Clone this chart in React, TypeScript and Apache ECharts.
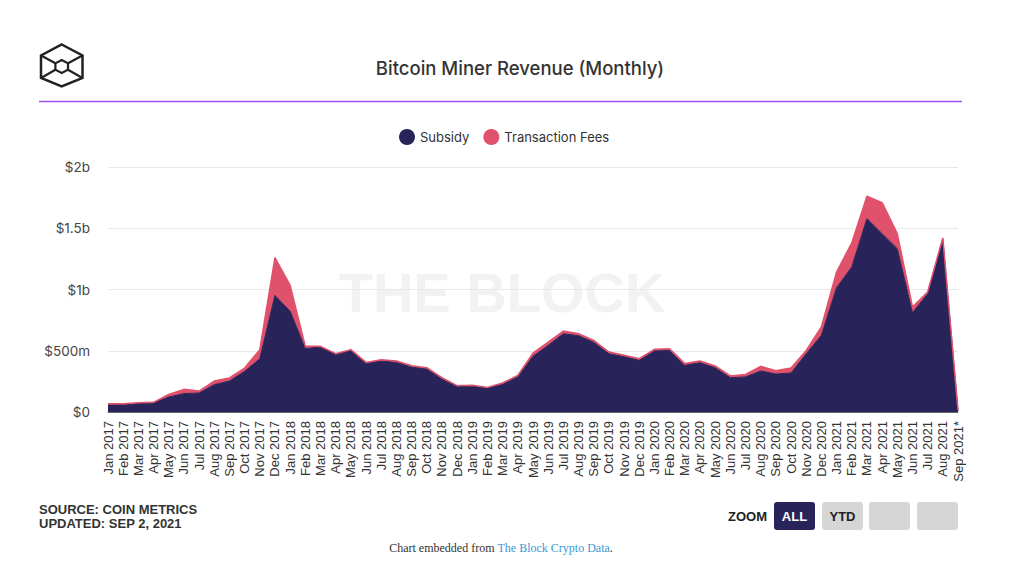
import React, { useEffect, useRef } from "react";
import * as echarts from "echarts";

const months = [
  "Jan 2017","Feb 2017","Mar 2017","Apr 2017","May 2017","Jun 2017","Jul 2017","Aug 2017","Sep 2017","Oct 2017","Nov 2017","Dec 2017",
  "Jan 2018","Feb 2018","Mar 2018","Apr 2018","May 2018","Jun 2018","Jul 2018","Aug 2018","Sep 2018","Oct 2018","Nov 2018","Dec 2018",
  "Jan 2019","Feb 2019","Mar 2019","Apr 2019","May 2019","Jun 2019","Jul 2019","Aug 2019","Sep 2019","Oct 2019","Nov 2019","Dec 2019",
  "Jan 2020","Feb 2020","Mar 2020","Apr 2020","May 2020","Jun 2020","Jul 2020","Aug 2020","Sep 2020","Oct 2020","Nov 2020","Dec 2020",
  "Jan 2021","Feb 2021","Mar 2021","Apr 2021","May 2021","Jun 2021","Jul 2021","Aug 2021","Sep 2021*",
];

// values in millions of USD
const subsidy = [
  57, 57, 68, 73, 122, 150, 155, 223, 253, 332, 435, 952,
  822, 517, 531, 468, 503, 395, 416, 405, 367, 351, 269, 207,
  210, 193, 226, 286, 455, 544, 639, 623, 569, 476, 452, 422,
  498, 503, 381, 402, 362, 280, 286, 335, 310, 318, 476, 626,
  1015, 1184, 1578, 1456, 1333, 811, 966, 1415, 8,
];

const fees = [
  11, 11, 8, 6, 22, 35, 16, 30, 25, 27, 74, 308,
  212, 19, 5, 8, 6, 10, 11, 11, 11, 11, 11, 8,
  8, 8, 11, 13, 25, 27, 22, 16, 16, 14, 11, 13,
  14, 14, 14, 14, 14, 14, 21, 38, 27, 41, 27, 68,
  128, 196, 183, 253, 123, 46, 14, 5, 5,
];

const yTicks = [0, 500, 1000, 1500, 2000];

const NAVY = "#28245a";
const RED = "#e0526b";

function fmtY(v: number): string {
  if (v === 0) return "$0";
  if (v < 1000) return `$${v}m`;
  return `$${v / 1000}b`;
}

export default function App() {
  const ref = useRef<HTMLDivElement>(null);
  useEffect(() => {
    if (!ref.current) return;
    const chart = echarts.init(ref.current, null, { renderer: "svg" });
    const sans = "Inter, 'Noto Sans', sans-serif";
    const arial = "'Liberation Sans', Arial, sans-serif";
    chart.setOption({
      animation: false,
      backgroundColor: "#ffffff",
      legend: {
        top: 124,
        left: 394,
        icon: "circle",
        itemWidth: 16,
        itemHeight: 16,
        itemGap: 14,
        textStyle: { fontFamily: sans, fontSize: 13, color: "#333" },
        data: ["Subsidy", "Transaction Fees"],
      },
      grid: { left: 108, right: 66, top: 167, bottom: 173, containLabel: false },
      xAxis: {
        type: "category",
        data: months,
        boundaryGap: false,
        axisTick: { show: false },
        axisLine: { lineStyle: { color: "#666", width: 1 } },
        axisLabel: {
          rotate: 90,
          interval: 0,
          margin: 9,
          fontFamily: arial,
          fontSize: 13,
          color: "#333",
        },
      },
      yAxis: {
        type: "value",
        min: 0,
        max: 2000,
        interval: 500,
        axisLine: { show: false },
        axisTick: { show: false },
        splitLine: { lineStyle: { color: "#e8e8e8", width: 1 } },
        axisLabel: {
          margin: 18,
          fontFamily: sans,
          fontSize: 13.5,
          color: "#444",
          formatter: (v: number) => (yTicks.includes(v) ? fmtY(v) : ""),
        },
      },
      series: [
        {
          name: "Subsidy",
          type: "line",
          stack: "rev",
          data: subsidy,
          symbol: "none",
          color: NAVY,
          lineStyle: { width: 1, color: NAVY },
          areaStyle: { color: NAVY, opacity: 1 },
        },
        {
          name: "Transaction Fees",
          type: "line",
          stack: "rev",
          data: fees,
          symbol: "none",
          color: RED,
          lineStyle: { width: 1.5, color: RED },
          areaStyle: { color: RED, opacity: 1 },
        },
      ],
      graphic: [
        {
          type: "text",
          z: -10,
          x: 502,
          y: 292,
          style: {
            text: "THE BLOCK",
            fill: "#f2f2f2",
            font: `bold 56px ${arial}`,
            textAlign: "center",
            textVerticalAlign: "middle",
          },
        },
        {
          type: "text",
          x: 520,
          y: 68,
          style: {
            text: "Bitcoin Miner Revenue (Monthly)",
            fill: "#333",
            font: `500 18.5px ${sans}`,
            textAlign: "center",
            textVerticalAlign: "middle",
          },
        },
        {
          type: "line",
          shape: { x1: 39, y1: 101.5, x2: 962, y2: 101.5 },
          style: { stroke: "#a24ff0", lineWidth: 1.5 },
        },
        // logo
        {
          type: "polygon",
          shape: {
            points: [
              [61.7, 44.5], [82.5, 55.5], [82.5, 78], [61.7, 86.5], [41, 78], [41, 55.5],
            ],
          },
          style: { fill: "none", stroke: "#222", lineWidth: 2.5, lineJoin: "miter" },
        },
        {
          type: "polygon",
          shape: {
            points: [
              [61.7, 60], [68, 63.3], [68, 69.7], [61.7, 73], [55.4, 69.7], [55.4, 63.3],
            ],
          },
          style: { fill: "none", stroke: "#222", lineWidth: 2.2 },
        },
        {
          type: "polyline",
          shape: { points: [[41, 55.5], [55.4, 63.3]] },
          style: { stroke: "#222", lineWidth: 2.2, fill: "none" },
        },
        {
          type: "polyline",
          shape: { points: [[82.5, 55.5], [68, 63.3]] },
          style: { stroke: "#222", lineWidth: 2.2, fill: "none" },
        },
        {
          type: "polyline",
          shape: { points: [[41, 78], [55.4, 69.7]] },
          style: { stroke: "#222", lineWidth: 2.2, fill: "none" },
        },
        {
          type: "polyline",
          shape: { points: [[82.5, 78], [68, 69.7]] },
          style: { stroke: "#222", lineWidth: 2.2, fill: "none" },
        },
        // source
        {
          type: "text",
          x: 39,
          y: 509,
          style: {
            text: "SOURCE: COIN METRICS",
            fill: "#333",
            font: `bold 13px ${arial}`,
            textVerticalAlign: "middle",
          },
        },
        {
          type: "text",
          x: 39,
          y: 523,
          style: {
            text: "UPDATED: SEP 2, 2021",
            fill: "#333",
            font: `bold 13px ${arial}`,
            textVerticalAlign: "middle",
          },
        },
        // zoom buttons
        {
          type: "text",
          x: 767,
          y: 516,
          style: {
            text: "ZOOM",
            fill: "#222",
            font: `bold 13px ${arial}`,
            textAlign: "right",
            textVerticalAlign: "middle",
          },
        },
        {
          type: "rect",
          shape: { x: 774, y: 502, width: 41, height: 28, r: 3 },
          style: { fill: NAVY },
        },
        {
          type: "text",
          x: 794.5,
          y: 516,
          style: {
            text: "ALL",
            fill: "#fff",
            font: `bold 13px ${arial}`,
            textAlign: "center",
            textVerticalAlign: "middle",
          },
        },
        {
          type: "rect",
          shape: { x: 822, y: 502, width: 41, height: 28, r: 3 },
          style: { fill: "#d6d6d6" },
        },
        {
          type: "text",
          x: 842.5,
          y: 516,
          style: {
            text: "YTD",
            fill: "#222",
            font: `bold 13px ${arial}`,
            textAlign: "center",
            textVerticalAlign: "middle",
          },
        },
        {
          type: "rect",
          shape: { x: 869, y: 502, width: 41, height: 28, r: 3 },
          style: { fill: "#d6d6d6" },
        },
        {
          type: "rect",
          shape: { x: 917, y: 502, width: 41, height: 28, r: 3 },
          style: { fill: "#d6d6d6" },
        },
        // footer
        {
          type: "text",
          x: 501,
          y: 548,
          style: {
            text: "{a|Chart embedded from }{b|The Block Crypto Data}{a|.}",
            textAlign: "center",
            textVerticalAlign: "middle",
            rich: {
              a: { fill: "#333", fontFamily: "'Liberation Serif', serif", fontSize: 12 },
              b: { fill: "#3d97d3", fontFamily: "'Liberation Serif', serif", fontSize: 12 },
            },
          },
        },
      ],
    });
    return () => chart.dispose();
  }, []);
  return (
    <div
      ref={ref}
      style={{ position: "absolute", left: 0, top: 0, width: 1024, height: 585 }}
    />
  );
}
